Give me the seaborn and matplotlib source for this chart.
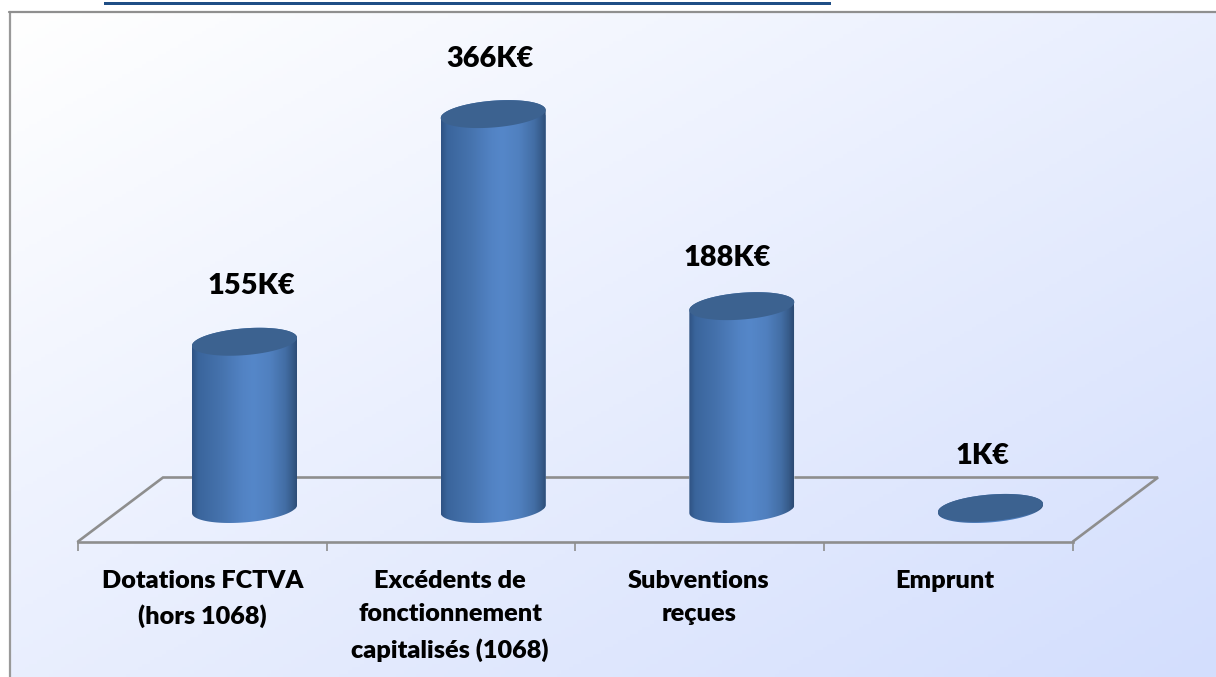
import numpy as np
import pandas as pd
import matplotlib
matplotlib.use("Agg")
import matplotlib.pyplot as plt
from matplotlib.colors import LinearSegmentedColormap
from matplotlib.path import Path
from matplotlib.patches import Rectangle, Polygon
import seaborn as sns

categories = ["Dotations FCTVA\n(hors 1068)",
              "Excédents de\nfonctionnement\ncapitalisés (1068)",
              "Subventions\nreçues",
              "Emprunt"]
values = [155, 366, 188, 1]
value_labels = ["155K€", "366K€", "188K€", "1K€"]

W, H = 1216, 677
sns.set_theme(style="white")
plt.rcParams["font.family"] = ["Lato", "DejaVu Sans"]

fig = plt.figure(figsize=(W / 100, H / 100), dpi=100, facecolor="white")

# --- page background -------------------------------------------------------
bg = fig.add_axes([0, 0, 1, 1], zorder=-1)
bg.axis("off")
xx, yy = np.meshgrid(np.linspace(0, 1, 300), np.linspace(0, 1, 200))
tt = (xx + yy) / 2
bgmap = LinearSegmentedColormap.from_list("bg", ["#FFFFFF", "#D3DEFD"])
bg.imshow(tt, cmap=bgmap, vmin=0, vmax=1, extent=(9, W + 2, H, 11.5), aspect="auto", zorder=1)
bg.plot([9.5, 9.5], [H + 2, 11.5], color="#999999", lw=1.6, zorder=3, solid_joinstyle="miter")
bg.plot([8.7, W + 2], [11.5, 11.5], color="#8F8F8F", lw=1.6, zorder=3)
bg.add_patch(Rectangle((104, 2), 727, 3.4, facecolor="#1F4E85", edgecolor="none", zorder=3))
bg.set_xlim(0, W)
bg.set_ylim(H, 0)

# --- chart axes ------------------------------------------------------------
ax_l, ax_r = 78, 1073          # front edge of the floor, px
ax_top, ax_bot = 12, 541.5
zero_px, px_per_val = 509, 1.079
first_c, step = 244.5, 248.67
ax = fig.add_axes([ax_l / W, 1 - ax_bot / H, (ax_r - ax_l) / W, (ax_bot - ax_top) / H])
ax.patch.set_alpha(0)

df = pd.DataFrame({"categorie": categories, "valeur": values})
bar_w = 105 / step
sns.barplot(data=df, x="categorie", y="valeur", color="#4A79B5", width=bar_w,
            saturation=1, ax=ax, zorder=4)

xlim = ((ax_l - first_c) / step, (ax_r - first_c) / step)
ylim = ((zero_px - ax_bot) / px_per_val, (zero_px - ax_top) / px_per_val)

# 3-D look of each bar
side = LinearSegmentedColormap.from_list(
    "side", [(0, "#2F5383"), (0.06, "#3A659C"), (0.28, "#4673AE"), (0.48, "#5283C4"),
             (0.58, "#5587C9"), (0.74, "#5080BF"), (0.88, "#436EA5"),
             (0.95, "#375C8B"), (1, "#2C4A73")])
grad = np.linspace(0, 1, 256)[None, :]
a, p, q = 52.5 / step, 4.0 / px_per_val, 13.4 / px_per_val
for patch, v in zip(ax.patches, values):
    cx = patch.get_x() + patch.get_width() / 2
    t1 = np.linspace(0, np.pi, 60)
    t2 = np.linspace(np.pi, 2 * np.pi, 60)
    top = np.c_[cx + a * np.cos(t1), v + p * np.cos(t1) + q * np.sin(t1)]
    base = np.c_[cx + a * np.cos(t2), p * np.cos(t2) + q * np.sin(t2)]
    outline = Path(np.r_[top, base, top[:1]], closed=True)
    patch.set_clip_path(outline, ax.transData)
    img = ax.imshow(grad, cmap=side, aspect="auto", zorder=5,
                    extent=(cx - a, cx + a, -q * 1.3, v + q * 1.3))
    img.set_clip_path(outline, ax.transData)
    t = np.linspace(0, 2 * np.pi, 120)
    cap = np.c_[cx + a * np.cos(t), v + p * np.cos(t) + q * np.sin(t)]
    ax.add_patch(Polygon(cap, closed=True, facecolor="#3C6290", edgecolor="none", zorder=6))

# data labels, each hand-placed in the original
label_dx = [6.5, -3, -14.5, -8]
label_dy = [56, 55, 48, 52]
for i, (v, s) in enumerate(zip(values, value_labels)):
    ax.annotate(s, xy=(i, v), xytext=(label_dx[i] * 0.72, label_dy[i] * 0.72),
                textcoords="offset points", ha="center", va="center",
                fontsize=20.8, fontweight="heavy", color="black", zorder=8,
                annotation_clip=False)

# floor
floor_c = "#8E8E8E"
back_y = (zero_px - 477.5) / px_per_val
back_r = (1158 - first_c) / step
back_l = (163 - first_c) / step
ax.plot([xlim[0], back_l, back_r, xlim[1]], [ylim[0], back_y, back_y, ylim[0]],
        color=floor_c, lw=1.9, zorder=2, clip_on=False, solid_joinstyle="miter")

ax.set_xlim(*xlim)
ax.set_ylim(*ylim)
n = len(categories)
label_px = [202.5, 450, 699, 945]
ax.set_xticks([(px - first_c) / step for px in label_px])
ax.set_xticklabels(categories, fontsize=18.2, fontweight="heavy", color="black", linespacing=1.64)
ax.set_xticks([xlim[0] + i for i in range(n + 1)], minor=True)
ax.tick_params(axis="x", which="major", length=0, pad=20.5)
ax.tick_params(axis="x", which="minor", length=6.5, width=1.2, color=floor_c, bottom=True)
ax.set_yticks([])
ax.set_xlabel("")
ax.set_ylabel("")
for s in ["top", "left", "right"]:
    ax.spines[s].set_visible(False)
ax.spines["bottom"].set_color(floor_c)
ax.spines["bottom"].set_linewidth(1.9)

fig.savefig("out.png", dpi=100)
